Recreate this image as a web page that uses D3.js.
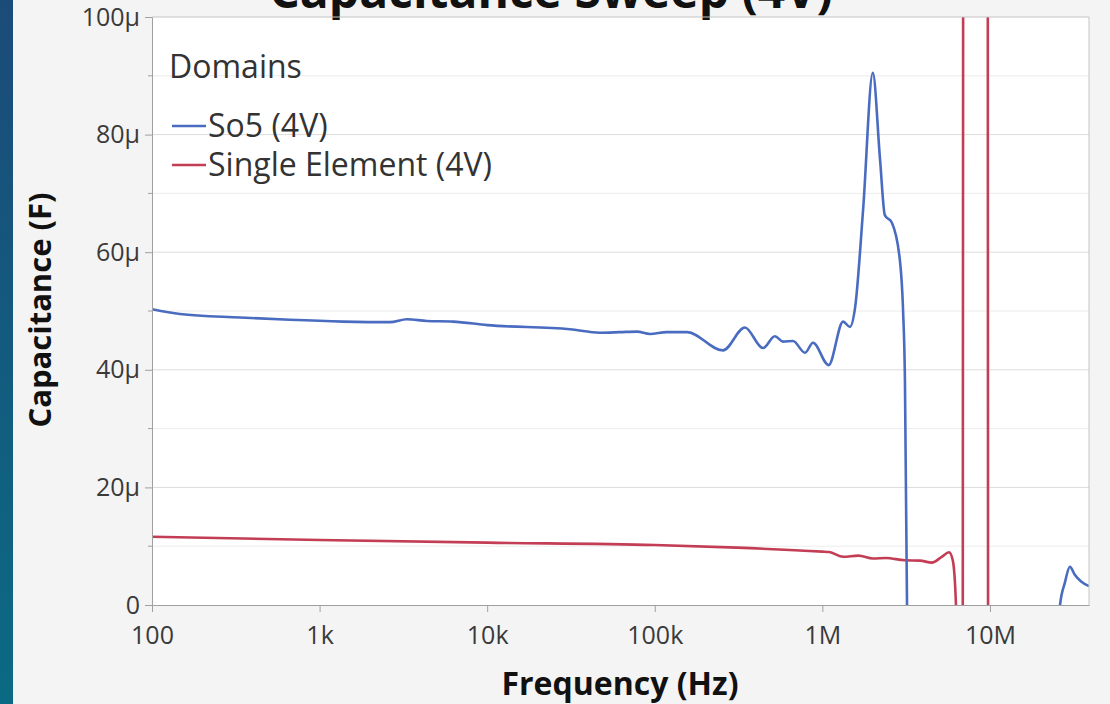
<!DOCTYPE html>
<html>
<head>
<meta charset="utf-8">
<script src="https://cdn.jsdelivr.net/npm/d3@7"></script>
<style>
  html, body { margin: 0; padding: 0; background: #f4f4f4; }
  svg { display: block; }
  text { font-family: "Open Sans", "Noto Sans", sans-serif; }
</style>
</head>
<body>
<svg id="chart" width="1110" height="704"></svg>
<script>
// ---- data (frequency in Hz, capacitance in µF) ----
const xTickValues = [100, 1e3, 1e4, 1e5, 1e6, 1e7];
const xTickLabels = ["100", "1k", "10k", "100k", "1M", "10M"];
const yTickValues = [0, 20, 40, 60, 80, 100];
const yTickLabels = ["0", "20μ", "40μ", "60μ", "80μ", "100μ"];
const yMinorTicks = [10, 30, 50, 70, 90];

const seriesNames = ["So5 (4V)", "Single Element (4V)"];

const so5Freq = [100, 147, 335, 665, 1380, 2630, 3320, 4370, 6250, 10000, 31200, 47100, 62000, 78300,
  93600, 118000, 156000, 255000, 345000, 442000, 521000, 582000, 668000, 788000, 879000, 1090000,
  1330000, 1460000, 1570000, 1750000, 2000000, 2210000, 2360000, 2600000, 2900000, 3030000, 3110000,
  3200000, 3300000, 25500000, 26200000, 28000000, 30000000, 32000000, 35000000, 39000000];
const so5Cap = [50.3, 49.5, 48.9, 48.5, 48.2, 48.1, 48.6, 48.3, 48.2, 47.6, 46.9, 46.3, 46.4, 46.5,
  46.1, 46.4, 46.4, 43.3, 47.2, 43.7, 45.7, 44.8, 44.9, 42.9, 44.6, 40.8,
  48.2, 47.3, 50.7, 67.2, 90.5, 75.7, 66.3, 65.0, 58.7, 50.2, 38.3,
  0, -60, -30, 0, 3.8, 6.5, 5.2, 4.0, 3.2];

const singleFreq = [100, 1000, 10000, 100000, 309000, 1000000, 1100000, 1330000, 1640000, 2000000,
  2400000, 3100000, 3820000, 4500000, 5160000, 5700000, 6000000, 6270000, 6500000, 6860000,
  6950000, 9660000, 9790000, 39000000];
const singleCap = [11.6, 11.05, 10.6, 10.2, 9.75, 9.07, 9.0, 8.2, 8.4, 7.9,
  8.0, 7.6, 7.55, 7.2, 8.2, 8.96, 7.6, 0, -40, -80,
  200, 200, -80, -80];

const seriesColors = ["#4a6cc0", "#c33d55"];

// ---- layout ----
const svg = d3.select("#chart");
const W = 1110, H = 704;
const plot = { left: 152, top: 17, right: 1089, bottom: 605 };

// left decorative strip
const defs = svg.append("defs");
const grad = defs.append("linearGradient").attr("id", "strip").attr("x1", 0).attr("y1", 0).attr("x2", 0).attr("y2", 1);
grad.append("stop").attr("offset", "0%").attr("stop-color", "#1b4b79");
grad.append("stop").attr("offset", "100%").attr("stop-color", "#0b6a83");
svg.append("rect").attr("x", 0).attr("y", 0).attr("width", 13).attr("height", H).attr("fill", "url(#strip)");

const x = d3.scaleLog().domain([100, 3.9e7]).range([plot.left, plot.right]);
const y = d3.scaleLinear().domain([0, 100]).range([plot.bottom, plot.top]);

// plot background
svg.append("rect").attr("x", plot.left).attr("y", plot.top)
  .attr("width", plot.right - plot.left).attr("height", plot.bottom - plot.top)
  .attr("fill", "#ffffff");

// gridlines
svg.append("g").selectAll("line").data(yMinorTicks).join("line")
  .attr("x1", plot.left).attr("x2", plot.right)
  .attr("y1", d => y(d)).attr("y2", d => y(d))
  .attr("stroke", "#ececec").attr("stroke-width", 1);
svg.append("g").selectAll("line").data(yTickValues.filter(d => d > 0 && d < 100)).join("line")
  .attr("x1", plot.left).attr("x2", plot.right)
  .attr("y1", d => y(d)).attr("y2", d => y(d))
  .attr("stroke", "#dcdcdc").attr("stroke-width", 1);

// title (cut at top, as in the source)
svg.append("text").attr("x", 551).attr("y", 8).attr("text-anchor", "middle")
  .attr("font-size", 48).attr("font-weight", "bold").attr("fill", "#111")
  .text("Capacitance Sweep (4V)");

// clip
defs.append("clipPath").attr("id", "clip").append("rect")
  .attr("x", plot.left).attr("y", plot.top)
  .attr("width", plot.right - plot.left).attr("height", plot.bottom - plot.top);

const line = d3.line().x(d => x(d[0])).y(d => y(d[1])).curve(d3.curveMonotoneX);

const g = svg.append("g").attr("clip-path", "url(#clip)");
g.append("path").datum(singleFreq.map((f, i) => [f, singleCap[i]]))
  .attr("d", line).attr("fill", "none").attr("stroke", seriesColors[1]).attr("stroke-width", 2.6)
  .attr("stroke-linejoin", "round");
g.append("path").datum(so5Freq.map((f, i) => [f, so5Cap[i]]))
  .attr("d", line).attr("fill", "none").attr("stroke", seriesColors[0]).attr("stroke-width", 2.6)
  .attr("stroke-linejoin", "round");

// frame (top/right)
svg.append("path")
  .attr("d", `M${plot.left},${plot.top}H${plot.right}V${plot.bottom}`)
  .attr("fill", "none").attr("stroke", "#c4c4c4").attr("stroke-width", 1);

// axes
const xAxis = d3.axisBottom(x).tickValues(xTickValues)
  .tickFormat((d, i) => xTickLabels[i]).tickSize(7).tickPadding(14).tickSizeOuter(0);
const gx = svg.append("g").attr("transform", `translate(0,${plot.bottom})`).call(xAxis);
gx.select(".domain").attr("stroke", "#a0a0a0");
gx.selectAll(".tick line").attr("stroke", "#a0a0a0");
gx.selectAll(".tick text").attr("font-size", 25).attr("fill", "#3a3a3a")
  .attr("font-family", "'Open Sans', sans-serif");

const yAxis = d3.axisLeft(y).tickValues(yTickValues)
  .tickFormat((d, i) => yTickLabels[i]).tickSize(7).tickPadding(5).tickSizeOuter(0);
const gy = svg.append("g").attr("transform", `translate(${plot.left},0)`).call(yAxis);
gy.select(".domain").attr("stroke", "#a0a0a0");
gy.selectAll(".tick line").attr("stroke", "#a0a0a0");
gy.selectAll(".tick text").attr("font-size", 25).attr("fill", "#3a3a3a")
  .attr("font-family", "'Open Sans', sans-serif");
gy.append("g").selectAll("line").data(yMinorTicks).join("line")
  .attr("x1", -4).attr("x2", 0).attr("y1", d => y(d)).attr("y2", d => y(d))
  .attr("stroke", "#a0a0a0");

// axis titles
svg.append("text").attr("x", 620).attr("y", 695).attr("text-anchor", "middle")
  .attr("font-size", 32).attr("font-weight", "bold").attr("fill", "#111")
  .text("Frequency (Hz)");
svg.append("text").attr("transform", "translate(51,310) rotate(-90)").attr("text-anchor", "middle")
  .attr("font-size", 31).attr("font-weight", "bold").attr("fill", "#111")
  .text("Capacitance (F)");

// legend
const lg = svg.append("g");
lg.append("text").attr("x", 169).attr("y", 78).attr("font-size", 32).attr("fill", "#333").text("Domains");
seriesNames.forEach((name, i) => {
  const yy = 126 + i * 39;
  lg.append("line").attr("x1", 172).attr("x2", 206).attr("y1", yy).attr("y2", yy)
    .attr("stroke", seriesColors[i]).attr("stroke-width", 2.4);
  lg.append("text").attr("x", 208).attr("y", yy + 11).attr("font-size", 32).attr("fill", "#333").text(name);
});
</script>
</body>
</html>
